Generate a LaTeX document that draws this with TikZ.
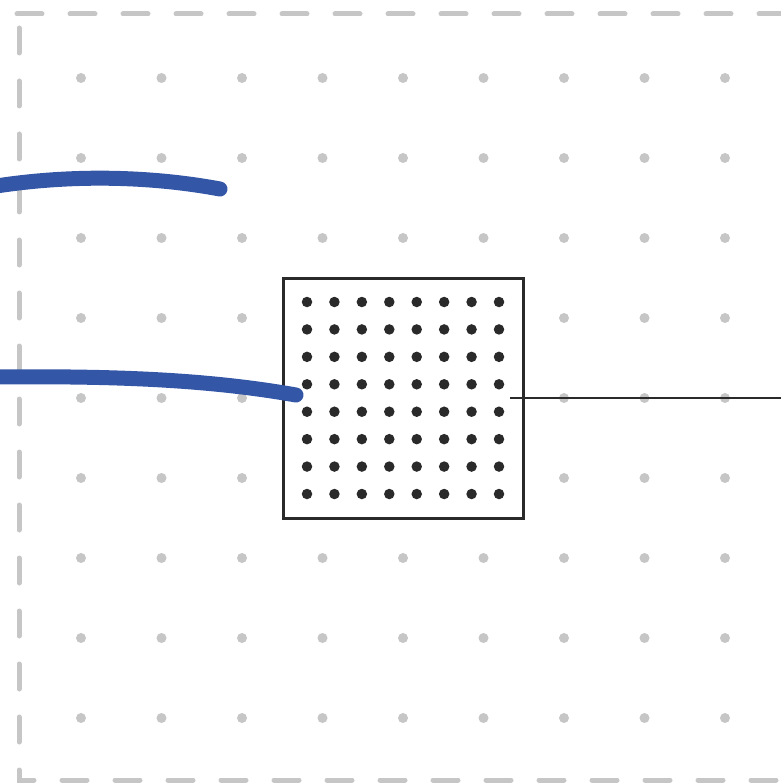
\documentclass[tikz,border=0pt]{standalone}
\usepackage{tikz}

\definecolor{wireblue}{RGB}{52,86,166}
\definecolor{dotgray}{RGB}{198,198,198}
\definecolor{inkblack}{RGB}{42,42,42}

\tikzset{
  griddot/.style={circle,fill=dotgray,inner sep=0pt,minimum size=10pt},
  pin/.style={circle,fill=inkblack,inner sep=0pt,minimum size=10.5pt},
  wire/.style={line width=15pt,wireblue,line cap=round},
  frameline/.style={line width=5pt,dotgray,line cap=round,dash pattern=on 25pt off 28pt}
}

\begin{document}
\begin{tikzpicture}[x=1pt,y=-1pt]

    \useasboundingbox (0,0) rectangle (780,783);

    % dashed frame
    \draw [frameline] (17,14) -- (800,14);
    \draw [frameline] (19,28) -- (19,780) -- (800,780);

    % background grid
    \foreach \i in {0,...,8}
      \foreach \j in {0,...,8}
        \node[griddot] (g\i\j) at (81+80.5*\i,78+80*\j) {};

    % wires
    \coordinate (wire1a) at (-10,187);
    \coordinate (wire1b) at (220,189);
    \coordinate (wire2a) at (-10,377);
    \coordinate (wire2b) at (296,395);
    \coordinate (tap) at (510,398);
    \coordinate (exit) at (800,398);

    % chip
    \node[draw=inkblack,fill=white,line width=3pt,minimum size=240pt,inner sep=0pt] (chip) at (403,398) {};
    \foreach \i in {0,...,7}
      \foreach \j in {0,...,7}
        \node[pin] (p\i\j) at (307+27.43*\i,302+27.43*\j) {};

    \draw [wire] (wire1a) .. controls (70,174) and (150,176) .. (wire1b);
    \draw [wire] (wire2a) .. controls (100,376) and (200,378) .. (wire2b);
    \draw [inkblack,line width=2.5pt] (tap) -- (exit);

\end{tikzpicture}
\end{document}
